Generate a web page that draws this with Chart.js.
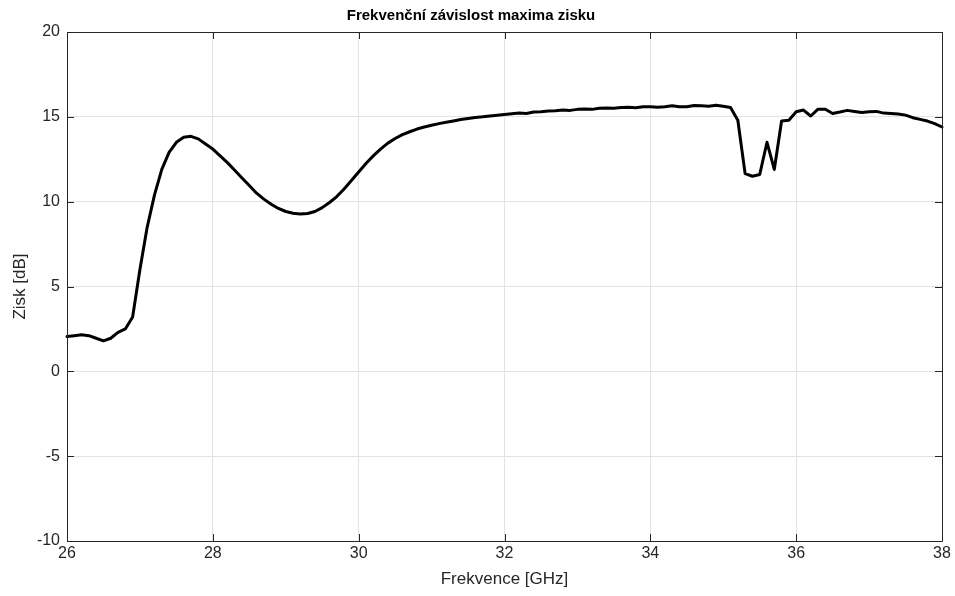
<!DOCTYPE html>
<html>
<head>
<meta charset="utf-8">
<script src="https://cdn.jsdelivr.net/npm/chart.js@4"></script>
<style>
html,body{margin:0;padding:0;background:#fff;}
#wrap{width:955px;height:596px;position:relative;}
</style>
</head>
<body>
<div id="wrap"><canvas id="c" width="955" height="596"></canvas></div>
<script>
const titleText = "Frekvenční závislost maxima zisku";
const xAxisLabel = "Frekvence [GHz]";
const yAxisLabel = "Zisk [dB]";

const frequencies = [
 26.0,26.1,26.2,26.3,26.4,26.5,26.6,26.7,26.8,26.9,
 27.0,27.1,27.2,27.3,27.4,27.5,27.6,27.7,27.8,27.9,
 28.0,28.1,28.2,28.3,28.4,28.5,28.6,28.7,28.8,28.9,
 29.0,29.1,29.2,29.3,29.4,29.5,29.6,29.7,29.8,29.9,
 30.0,30.1,30.2,30.3,30.4,30.5,30.6,30.7,30.8,30.9,
 31.0,31.1,31.2,31.3,31.4,31.5,31.6,31.7,31.8,31.9,
 32.0,32.1,32.2,32.3,32.4,32.5,32.6,32.7,32.8,32.9,
 33.0,33.1,33.2,33.3,33.4,33.5,33.6,33.7,33.8,33.9,
 34.0,34.1,34.2,34.3,34.4,34.5,34.6,34.7,34.8,34.9,
 35.0,35.1,35.2,35.3,35.4,35.5,35.6,35.7,35.8,35.9,
 36.0,36.1,36.2,36.3,36.4,36.5,36.6,36.7,36.8,36.9,
 37.0,37.1,37.2,37.3,37.4,37.5,37.6,37.7,37.8,37.9,
 38.0
];

const gainDb = [
 2.05,2.1,2.15,2.1,1.95,1.8,1.95,2.3,2.5,3.2,
 6.0,8.5,10.4,11.9,12.9,13.5,13.8,13.85,13.7,13.4,
 13.1,12.7,12.3,11.85,11.4,10.95,10.5,10.15,9.85,9.6,
 9.42,9.32,9.27,9.3,9.42,9.65,9.95,10.3,10.75,11.25,
 11.75,12.25,12.7,13.1,13.45,13.72,13.95,14.12,14.28,14.4,
 14.5,14.6,14.68,14.76,14.84,14.9,14.96,15.0,15.05,15.1,
 15.14,15.18,15.22,15.2,15.28,15.3,15.34,15.36,15.4,15.38,
 15.44,15.46,15.44,15.5,15.52,15.5,15.55,15.56,15.54,15.6,
 15.6,15.57,15.6,15.65,15.6,15.6,15.67,15.65,15.62,15.68,
 15.62,15.55,14.8,11.65,11.5,11.6,13.5,11.9,14.75,14.8,
 15.3,15.4,15.05,15.45,15.45,15.2,15.28,15.38,15.32,15.25,
 15.3,15.32,15.22,15.2,15.17,15.1,14.95,14.85,14.75,14.6,
 14.4
];

const xTicks = [26, 28, 30, 32, 34, 36, 38];
const yTicks = [-10, -5, 0, 5, 10, 15, 20];

const points = frequencies.map((f, i) => ({x: f, y: gainDb[i]}));
const textColor = '#262626';
const axisColor = '#262626';
const gridColor = '#e3e3e3';
const FONT = 'Liberation Sans, Arial, Helvetica, sans-serif';

const frameTicks = {
  id: 'frameTicks',
  afterDatasetsDraw(chart) {
    const {ctx, chartArea: a, scales: {x, y}} = chart;
    ctx.save();
    ctx.strokeStyle = axisColor;
    ctx.lineWidth = 1;
    ctx.beginPath();
    ctx.rect(Math.round(a.left) + 0.5, Math.round(a.top) + 0.5,
             Math.round(a.right - a.left), Math.round(a.bottom - a.top));
    ctx.stroke();
    const L = 7;
    ctx.beginPath();
    xTicks.forEach(v => {
      const px = Math.round(x.getPixelForValue(v)) + 0.5;
      ctx.moveTo(px, a.bottom); ctx.lineTo(px, a.bottom - L);
      ctx.moveTo(px, a.top); ctx.lineTo(px, a.top + L);
    });
    yTicks.forEach(v => {
      const py = Math.round(y.getPixelForValue(v)) + 0.5;
      ctx.moveTo(a.left, py); ctx.lineTo(a.left + L, py);
      ctx.moveTo(a.right, py); ctx.lineTo(a.right - L, py);
    });
    ctx.stroke();
    ctx.restore();
  }
};

new Chart(document.getElementById('c'), {
  type: 'line',
  data: {
    datasets: [{
      data: points,
      borderColor: '#000000',
      borderWidth: 3,
      borderJoinStyle: 'round',
      borderCapStyle: 'round',
      pointRadius: 0,
      tension: 0,
      fill: false,
      clip: 4
    }]
  },
  options: {
    responsive: false,
    animation: false,
    devicePixelRatio: 1,
    layout: {padding: {left: 0, right: 13, top: 0, bottom: 0}},
    plugins: {
      legend: {display: false},
      tooltip: {enabled: false},
      title: {
        display: true,
        text: titleText,
        color: '#000',
        font: {family: FONT, size: 15, weight: 'bold', lineHeight: 1.2},
        padding: {top: 7, bottom: 7}
      }
    },
    scales: {
      x: {
        type: 'linear',
        min: 26, max: 38,
        afterBuildTicks: s => { s.ticks = xTicks.map(v => ({value: v})); },
        afterFit: s => { s.height = 55; },
        grid: {color: gridColor, drawTicks: false, lineWidth: 1},
        border: {display: false},
        ticks: {color: textColor, font: {family: FONT, size: 16}, padding: 3, maxRotation: 0},
        title: {display: true, text: xAxisLabel, color: textColor,
                font: {family: FONT, size: 17}, padding: {top: 0, bottom: 6}}
      },
      y: {
        type: 'linear',
        min: -10, max: 20,
        afterBuildTicks: s => { s.ticks = yTicks.map(v => ({value: v})); },
        afterFit: s => { s.width = 67; },
        grid: {color: gridColor, drawTicks: false, lineWidth: 1},
        border: {display: false},
        ticks: {color: textColor, font: {family: FONT, size: 16}, padding: 7},
        title: {display: true, text: yAxisLabel, color: textColor,
                font: {family: FONT, size: 17}, padding: {top: 10, bottom: 0}}
      }
    }
  },
  plugins: [frameTicks]
});
</script>
</body>
</html>
